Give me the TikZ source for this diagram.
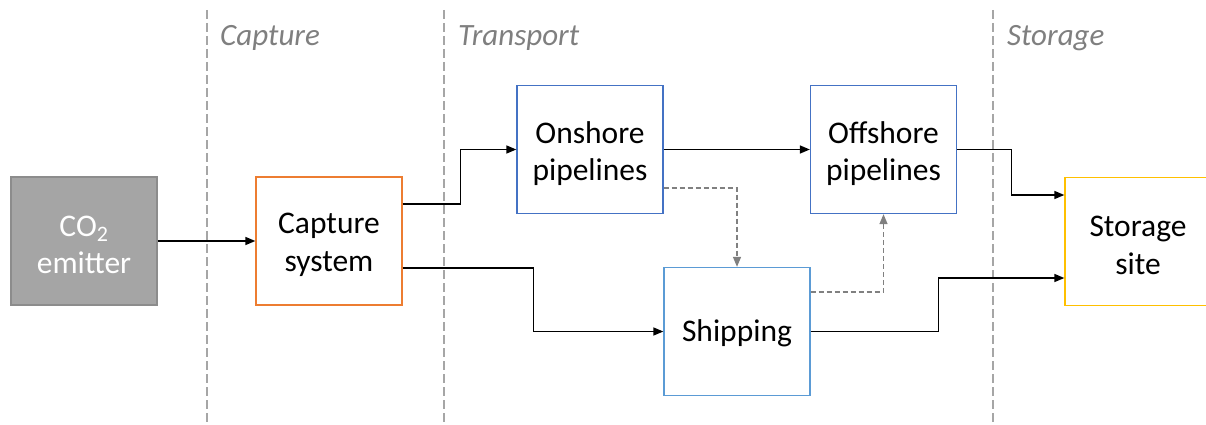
\documentclass[tikz,border=0pt]{standalone}
\usepackage{fontspec}
\setmainfont{Carlito}
\usetikzlibrary{arrows.meta,calc}
\definecolor{emitfill}{HTML}{A5A5A5}
\definecolor{emitline}{HTML}{8C8C8C}
\definecolor{capline}{HTML}{ED7D31}
\definecolor{pipeline}{HTML}{4472C4}
\definecolor{shipline}{HTML}{5B9BD5}
\definecolor{storline}{HTML}{FFC000}
\definecolor{sepgray}{HTML}{A6A6A6}
\definecolor{altgray}{HTML}{808080}
\definecolor{labgray}{HTML}{7F7F7F}
\begin{document}
\begin{tikzpicture}[x=1pt,y=-1pt,
  box/.style={draw,line width=1.3pt,minimum width=146pt,minimum height=128pt,inner sep=0pt},
  boxtext/.style={inner sep=0pt,align=center,font=\fontsize{31.5}{37.7}\selectfont},
  conn/.style={line width=1.5pt,-{Triangle[length=10pt,width=8pt]}},
  alt/.style={line width=1.3pt,draw=altgray,dash pattern=on 5pt off 3pt,-{Triangle[length=10pt,width=8pt]}},
  sepline/.style={line width=1.3pt,draw=sepgray,dash pattern=on 9pt off 4pt},
  phase/.style={anchor=base west,font=\fontsize{31}{37.7}\selectfont\itshape,text=labgray,inner sep=0pt}]
\useasboundingbox (0,0) rectangle (1206,425);
\clip (0,0) rectangle (1206,425);
% phase separators
\coordinate (s1t) at (207,10); \coordinate (s1b) at (207,425);
\coordinate (s2t) at (444,10); \coordinate (s2b) at (444,425);
\coordinate (s3t) at (993,10); \coordinate (s3b) at (993,425);
\draw[sepline] (s1t) -- (s1b);
\draw[sepline] (s2t) -- (s2b);
\draw[sepline] (s3t) -- (s3b);
\node[phase] (lcap) at (220,46) {Capture};
\node[phase] (ltra) at (458,46) {Transport};
\node[phase] (lsto) at (1007,46) {Storage};
% boxes
\node[box,draw=emitline,fill=emitfill] (emit) at (84,241) {};
\node[box,draw=capline] (cap) at (329,241) {};
\node[box,draw=pipeline] (on) at (590,149.5) {};
\node[box,draw=pipeline] (off) at (883.5,149.5) {};
\node[box,draw=shipline] (ship) at (737,331.5) {};
\node[box,draw=storline] (stor) at (1138,241.5) {};
% box texts
\node[boxtext,text=white] (emitt) at ($(emit)+(0,4)$) {CO\textsubscript{2}\\emitter};
\node[boxtext] (capt) at ($(cap)+(0,4)$) {Capture\\system};
\node[boxtext] (ont) at ($(on)+(0,4)$) {Onshore\\pipelines};
\node[boxtext] (offt) at ($(off)+(0,4)$) {Offshore\\pipelines};
\node[boxtext] (shipt) at ($(ship)+(0,2)$) {Shipping};
\node[boxtext] (stort) at ($(stor)+(0,4)$) {Storage\\site};
% connectors
\draw[conn] (emit) -- (cap);
\draw[conn] ($(cap.east)+(0,-37)$) -- ++(58,0) |- (on.west);
\draw[conn] ($(cap.east)+(0,27)$) -- ++(131,0) |- (ship.west);
\draw[conn] (on) -- (off);
\draw[conn] (off.east) -- ++(54.5,0) |- ($(stor.west)+(0,-46.5)$);
\draw[conn] (ship.east) -- ++(128,0) |- ($(stor.west)+(0,36.5)$);
\draw[alt] ($(on.east)+(0,38.5)$) -| (ship.north);
\draw[alt] ($(ship.east)+(0,-39.5)$) -| (off.south);
\end{tikzpicture}
\end{document}
